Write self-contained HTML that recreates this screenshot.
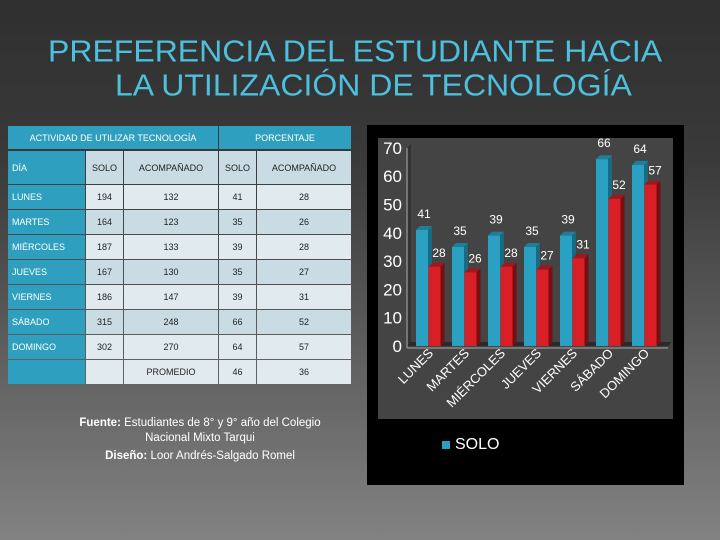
<!DOCTYPE html>
<html><head><meta charset="utf-8"><style>
body{margin:0;width:720px;height:540px;overflow:hidden;font-family:"Liberation Sans",sans-serif;}
#slide{position:absolute;left:0;top:0;width:720px;height:540px;background:linear-gradient(180deg,#2f2f2f 0%,#3a3a3a 30%,#5e5e5e 65%,#828282 100%);}
.t{position:absolute;color:#4cc0dd;font-size:32px;white-space:nowrap;transform-origin:0 0;transform:scaleY(0.95);}
.c{position:absolute;box-sizing:border-box;font-size:9px;color:#222;display:flex;align-items:center;justify-content:center;}
.h{background:#2f9fbf;color:#fff;}
.l1{background:#e1ebef}.l2{background:#c9dce3}
.lf{justify-content:flex-start;padding-left:4px;}
</style></head><body>
<div id="slide"></div>
<div class="t" style="left:48px;top:34px">PREFERENCIA DEL ESTUDIANTE HACIA</div>
<div class="t" style="left:115px;top:68px">LA UTILIZACIÓN DE TECNOLOGÍA</div>
<div id="table"></div>
<div style="position:absolute;left:40px;top:416px;width:320px;text-align:center;color:#fff;font-size:11.5px;line-height:15px"><b>Fuente:</b> Estudiantes de 8° y 9° año del Colegio<br>Nacional Mixto Tarqui<div style="margin-top:3px"><b>Diseño:</b> Loor Andrés-Salgado Romel</div></div>
<svg id="chart" width="720" height="540" style="position:absolute;left:0;top:0">
<rect x="367" y="125" width="317" height="360" fill="#000"/>
<rect x="378" y="138" width="295" height="281" fill="#444"/>
</svg>
<script>
const days=["LUNES","MARTES","MIÉRCOLES","JUEVES","VIERNES","SÁBADO","DOMINGO"];
const soloCount=[194,164,187,167,186,315,302];
const acompCount=[132,123,133,130,147,248,270];
const soloPct=[41,35,39,35,39,66,64];
const acompPct=[28,26,28,27,31,52,57];
const avgPct=[46,36];
const yTicks=[0,10,20,30,40,50,60,70];

// table
const T=document.getElementById('table');
const cols=[8,86,124,219,257,352];
function cell(x0,x1,y0,y1,txt,cls,name){
 const d=document.createElement('div');d.className='c '+cls;
 d.style.cssText=`left:${x0}px;top:${y0}px;width:${x1-x0-1}px;height:${y1-y0-1}px`;
 d.textContent=txt;
 
 
 T.appendChild(d);}
cell(8,219,126,150,'ACTIVIDAD DE UTILIZAR TECNOLOGÍA','h','header-activity');
cell(219,352,126,150,'PORCENTAJE','h','header-percentage');
const sub=['DÍA','SOLO','ACOMPAÑADO','SOLO','ACOMPAÑADO'];
sub.forEach((s,j)=>cell(cols[j],cols[j+1],151,185,s,(j==0?'h lf':'l2'),'subheader-cell'));
days.forEach((d,i)=>{const y=185+25*i;
 const vals=[d,soloCount[i],acompCount[i],soloPct[i],acompPct[i]];
 vals.forEach((v,j)=>cell(cols[j],cols[j+1],y,y+25,String(v),j==0?'h lf':(i%2?'l2':'l1'),'table-cell'));});
{const y=185+25*7;
 ['','', 'PROMEDIO',avgPct[0],avgPct[1]].forEach((v,j)=>cell(cols[j],cols[j+1],y,y+25,String(v),j==0?'h':'l1','average-cell'));}

// chart
const S=document.getElementById('chart'),NS='http://www.w3.org/2000/svg';
function el(t,a,name){const e=document.createElementNS(NS,t);for(const k in a)e.setAttribute(k,a[k]);
 
 
 S.appendChild(e);return e;}
const y0=346,k=2.83;const yv=v=>y0-v*k;const gx=i=>416+36*i;
el('polygon',{points:`407,${yv(70)} 411,${yv(70)-4} 411,${y0-4} 407,${y0}`,fill:'#333'},'back-wall');
el('polygon',{points:`407,${y0} 411,${y0-4} 672,${y0-4} 668,${y0}`,fill:'#2a2a2a'},'floor');
el('line',{x1:407,y1:yv(70),x2:407,y2:y0+2,stroke:'#888','stroke-width':1.5},'y-axis');
el('line',{x1:407,y1:y0+2,x2:668,y2:y0+2,stroke:'#888','stroke-width':1.5},'x-axis');
yTicks.forEach(t=>{const tx=el('text',{x:402,y:yv(t)+6,'text-anchor':'end',fill:'#fff','font-size':17},'y-tick-label');tx.textContent=t;});
function bar(x,v,c,side,top,name){const y=yv(v);
 el('polygon',{points:`${x+12},${y} ${x+16},${y-4} ${x+16},${y0-4} ${x+12},${y0}`,fill:side},name+'-side');
 el('polygon',{points:`${x},${y} ${x+4},${y-4} ${x+16},${y-4} ${x+12},${y}`,fill:top},name+'-top');
 el('rect',{x:x,y:y,width:12,height:y0-y,fill:c},name);}
days.forEach((d,i)=>{const x=gx(i);
 bar(x,soloPct[i],'#2aa0c2','#1a6a80','#1f7f9a','bar-solo');
 bar(x+12.5,acompPct[i],'#d81f26','#7a0f13','#a0161c','bar-acompanado');
 let t=el('text',{x:x+8,y:yv(soloPct[i])-12,'text-anchor':'middle',fill:'#fff','font-size':12},'value-label-solo');t.textContent=soloPct[i];
 t=el('text',{x:x+23,y:yv(acompPct[i])-10,'text-anchor':'middle',fill:'#fff','font-size':12},'value-label-acompanado');t.textContent=acompPct[i];
 t=el('text',{x:0,y:0,'text-anchor':'end',fill:'#fff','font-size':13,transform:`translate(${x+18},${y0+8}) rotate(-45)`},'x-tick-label');t.textContent=d;});
el('rect',{x:442,y:441,width:8,height:8,fill:'#2aa0c2'},'legend-swatch-solo');
const lt=el('text',{x:455,y:449,fill:'#fff','font-size':16},'legend-label-solo');lt.textContent='SOLO';
</script>
</body></html>
